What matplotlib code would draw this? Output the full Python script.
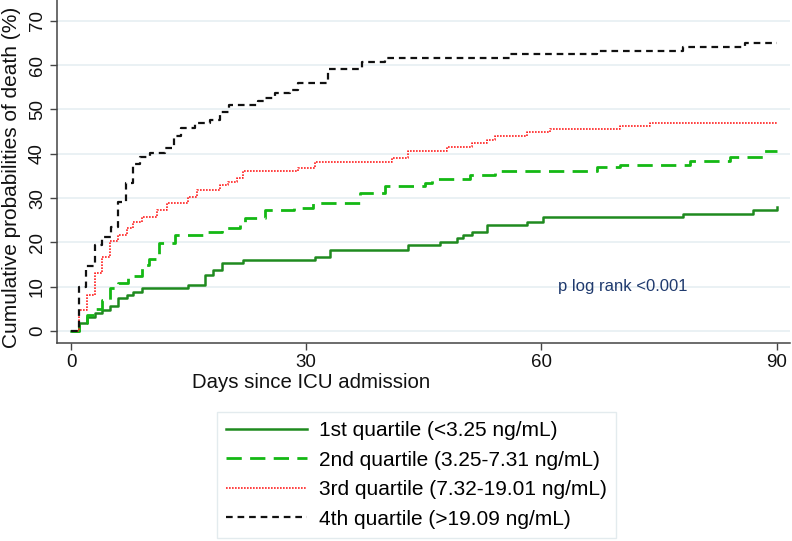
import numpy as np
import matplotlib
matplotlib.use("Agg")
import matplotlib.pyplot as plt

plt.rcParams['font.family'] = ['Liberation Sans', 'DejaVu Sans']

# Kaplan-Meier failure curves (day of step, cumulative % after step)
q1_days = [0, 1, 2, 3.1, 4, 5, 6, 7.1, 7.9, 9.1, 14.9, 17.1, 18.1, 19.3, 21.9, 31.1, 33,
           43, 47.1, 49.2, 50, 51.1, 53.1, 58.2, 60.2, 78.1, 87, 90]
q1_vals = [0, 1.8, 3.2, 4.0, 4.7, 5.6, 7.4, 8.1, 8.9, 9.6, 10.4, 12.6, 13.8, 15.3, 16.0, 16.8, 18.3,
           19.4, 20.0, 20.9, 21.7, 22.4, 23.9, 24.7, 25.7, 26.3, 27.2, 28.0]

q2_days = [0, 1, 2, 3, 4, 5, 6, 7.3, 9, 10, 11.2, 13.3, 17.5, 19.3, 21.5, 22.2, 24.8, 28.5,
           30.8, 36.8, 40, 45.2, 46, 50.9, 54.1, 67.1, 70, 79, 84, 88.3, 90]
q2_vals = [0, 1.8, 3.5, 5.0, 7.0, 9.7, 10.8, 12.3, 14.9, 16.2, 19.9, 21.7, 22.4, 23.2, 23.9, 25.4, 27.2, 27.7,
           28.8, 31.1, 32.7, 33.5, 34.3, 35.2, 36.1, 36.9, 37.5, 38.4, 39.3, 40.6, 40.6]

q3_days = [0, 1, 2, 3.1, 4, 5, 6, 7.1, 7.9, 9.1, 11, 12.2, 14.9, 16.1, 19, 20, 21.2, 21.9,
           29, 31.1, 40.9, 43, 48, 51.1, 53.1, 54.1, 58.2, 61.1, 70, 73.9, 90]
q3_vals = [0, 4.7, 8.1, 13.2, 16.8, 20.2, 21.7, 23.2, 24.7, 25.8, 27.3, 28.8, 30.3, 31.8, 33.0, 33.7, 34.5, 36.0,
           36.7, 38.2, 39.1, 40.7, 41.6, 42.4, 43.1, 44.0, 44.8, 45.5, 46.3, 47.0, 47.0]

q4_days = [0, 1, 1.9, 3.1, 4, 5.1, 6, 7, 7.95, 8.8, 10.1, 12, 13.1, 14, 15.8, 17.7, 19, 20.2,
           23.9, 24.7, 26, 27.9, 29, 32.8, 37.1, 40, 56, 67.1, 78, 86, 90]
q4_vals = [0, 9.9, 14.7, 19.4, 21.3, 23.5, 29.0, 33.3, 37.8, 39.3, 40.1, 41.2, 43.9, 45.8, 46.9, 47.6, 49.5, 51.0,
           51.8, 52.5, 53.7, 54.3, 55.9, 59.1, 60.7, 61.6, 62.5, 63.1, 64.0, 64.9, 64.9]

labels = ["1st quartile (<3.25 ng/mL)",
          "2nd quartile (3.25-7.31 ng/mL)",
          "3rd quartile (7.32-19.01 ng/mL)",
          "4th quartile (>19.09 ng/mL)"]

fig = plt.figure(figsize=(7.92, 5.41), dpi=100)
ax = fig.add_axes([57/792, 1 - 343/541, (790 - 57)/792, 343/541])

ax.step(q1_days, q1_vals, where='post', color='#1f8a1f', lw=1.8, label=labels[0])
ax.step(q2_days, q2_vals, where='post', color='#14b814', lw=2.0,
        linestyle=(0, (5.5, 3.0)), label=labels[1])
ax.step(q3_days, q3_vals, where='post', color='#ff2020', lw=1.2,
        linestyle=(0, (1, 0.8)), label=labels[2])
ax.step(q4_days, q4_vals, where='post', color='#111111', lw=1.6,
        linestyle=(0, (3.0, 2.2)), label=labels[3])

ax.set_xlim(-1.79, 91.7)
ax.set_ylim(-2.71, 74.7)
ax.set_xticks([0, 30, 60, 90])
ax.set_yticks(np.arange(0, 71, 10))
ax.grid(axis='y', color='#e6eff2', lw=1.2)
ax.set_axisbelow(True)
for s in ['top', 'right']:
    ax.spines[s].set_visible(False)
for s in ['left', 'bottom']:
    ax.spines[s].set_color('#444444')
    ax.spines[s].set_linewidth(1.1)
ax.tick_params(axis='both', colors='#444444', labelcolor='#111111', labelsize=13.5,
               length=5, width=1.0, pad=3)
plt.setp(ax.get_yticklabels(), rotation=90, va='center')

ax.text(62.1, 10, "p log rank <0.001", color='#1f3a6e', fontsize=12, va='center')

fig.text(311/792, 1 - 383/541, "Days since ICU admission", ha='center', va='center',
         fontsize=14.7, color='#111111')
fig.text(12/792, 1 - 177/541, "Cumulative probabilities of death (%)", rotation=90,
         ha='center', va='center', fontsize=15, color='#111111')

leg = fig.legend(loc='upper left', bbox_to_anchor=(217/792, 1 - 412/541), fontsize=15,
                 handlelength=3.85, handletextpad=0.58, labelspacing=0.5, borderpad=0.45,
                 borderaxespad=0, frameon=True, fancybox=False)
leg.get_frame().set_edgecolor('#dde6ea')
leg.get_frame().set_linewidth(1.0)

fig.savefig("out.png", dpi=100)
